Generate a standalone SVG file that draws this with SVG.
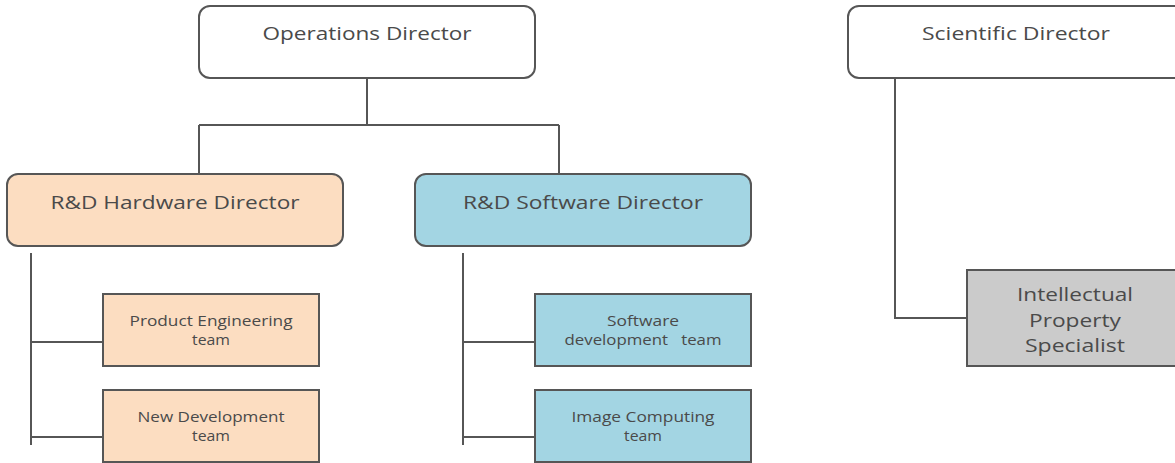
<svg xmlns="http://www.w3.org/2000/svg" width="1175" height="463" viewBox="0 0 1175 463">
<style>
.box{stroke:#565656;stroke-width:2}
.white{fill:#ffffff}
.peach{fill:#FCDDC1}
.blue{fill:#A3D5E3}
.grey{fill:#CBCBCB}
.conn{fill:none;stroke:#565656;stroke-width:2}
text{font-family:"Open Sans","Liberation Sans",sans-serif;fill:#4A4A4A;text-anchor:middle;white-space:pre}
.big{font-size:19px}
.small{font-size:14.5px}
</style>
<rect width="1175" height="463" fill="#ffffff"/>
<g id="connectors">
<path class="conn" d="M367 78 V125 M199 125 H559 M199 125 V174 M559 125 V174"/>
<path class="conn" d="M31 253 V445 M31 342 H103 M31 437 H103"/>
<path class="conn" d="M463 253 V445 M463 342 H535 M463 437 H535"/>
<path class="conn" d="M895 78 V318 H967"/>
</g>
<g id="operations-director">
<rect class="box white" x="199" y="6" width="336" height="72" rx="11"/>
<text class="big" x="367" y="40" textLength="209" lengthAdjust="spacingAndGlyphs">Operations Director</text>
</g>
<g id="scientific-director">
<rect class="box white" x="848" y="6" width="340" height="72" rx="11"/>
<text class="big" x="1016" y="40" textLength="188" lengthAdjust="spacingAndGlyphs">Scientific Director</text>
</g>
<g id="hardware-director">
<rect class="box peach" x="7" y="174" width="336" height="72" rx="11"/>
<text class="big" x="175" y="209" textLength="249" lengthAdjust="spacingAndGlyphs">R&amp;D Hardware Director</text>
</g>
<g id="software-director">
<rect class="box blue" x="415" y="174" width="336" height="72" rx="11"/>
<text class="big" x="583" y="209" textLength="240" lengthAdjust="spacingAndGlyphs">R&amp;D Software Director</text>
</g>
<g id="product-engineering">
<rect class="box peach" x="103" y="294" width="216" height="72"/>
<text class="small" x="211" y="326" textLength="163" lengthAdjust="spacingAndGlyphs">Product Engineering</text>
<text class="small" x="211" y="345" textLength="38" lengthAdjust="spacingAndGlyphs">team</text>
</g>
<g id="new-development">
<rect class="box peach" x="103" y="390" width="216" height="72"/>
<text class="small" x="211" y="422" textLength="147" lengthAdjust="spacingAndGlyphs">New Development</text>
<text class="small" x="211" y="441" textLength="38" lengthAdjust="spacingAndGlyphs">team</text>
</g>
<g id="software-development">
<rect class="box blue" x="535" y="294" width="216" height="72"/>
<text class="small" x="643" y="326" textLength="72" lengthAdjust="spacingAndGlyphs">Software</text>
<text class="small" x="643" y="345" textLength="157" lengthAdjust="spacingAndGlyphs">development   team</text>
</g>
<g id="image-computing">
<rect class="box blue" x="535" y="390" width="216" height="72"/>
<text class="small" x="643" y="422" textLength="143" lengthAdjust="spacingAndGlyphs">Image Computing</text>
<text class="small" x="643" y="441" textLength="38" lengthAdjust="spacingAndGlyphs">team</text>
</g>
<g id="ip-specialist">
<rect class="box grey" x="967" y="270" width="220" height="96"/>
<text class="big" x="1075" y="301" textLength="116" lengthAdjust="spacingAndGlyphs">Intellectual</text>
<text class="big" x="1075" y="327" textLength="92" lengthAdjust="spacingAndGlyphs">Property</text>
<text class="big" x="1075" y="352" textLength="100" lengthAdjust="spacingAndGlyphs">Specialist</text>
</g>
</svg>
